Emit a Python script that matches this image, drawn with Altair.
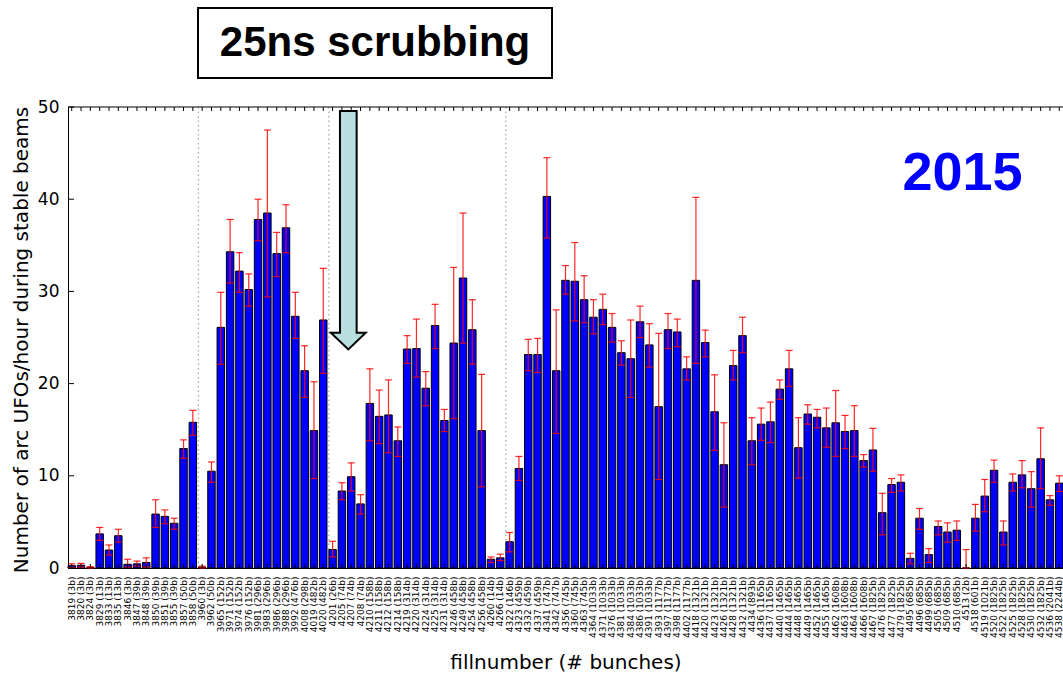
import altair as alt
import pandas as pd

# ---------------- data ----------------
fills = [3819, 3820, 3824, 3829, 3833, 3835, 3846, 3847, 3848, 3850, 3851, 3855, 3857, 3858,
         3960, 3962, 3965, 3971, 3974, 3976, 3981, 3983, 3986, 3988, 3992, 4008, 4019, 4020,
         4201, 4205, 4207, 4208, 4210, 4211, 4212, 4214, 4219, 4220, 4224, 4225, 4231, 4246,
         4249, 4254, 4256, 4260, 4266,
         4322, 4323, 4332, 4337, 4341, 4342, 4356, 4360, 4363, 4364, 4371, 4376, 4381, 4384,
         4386, 4391, 4393, 4397, 4398, 4402, 4418, 4420, 4423, 4426, 4428, 4432, 4434, 4436,
         4437, 4440, 4444, 4448, 4449, 4452, 4455, 4462, 4463, 4464, 4466, 4467, 4476, 4477,
         4479, 4495, 4496, 4499, 4505, 4509, 4510, 4513, 4518, 4519, 4520, 4522, 4525, 4528,
         4530, 4532, 4536, 4538]

bunches = [3, 3, 3, 13, 13, 13, 3, 39, 39, 39, 39, 39, 50, 50,
           3, 50, 152, 152, 152, 152, 296, 296, 296, 296, 476, 298, 482, 482,
           26, 74, 74, 74, 158, 158, 158, 158, 314, 314, 314, 314, 314, 458, 458, 458, 458, 14, 14,
           146, 459, 459, 459, 747, 747, 745, 745, 745, 1033, 1033, 1033, 1033, 1033, 1033, 1033,
           1177, 1177, 1177, 1177, 1321, 1321, 1321, 1321, 1321, 1321, 893, 1165, 1165,
           1465, 1465, 1465, 1465, 1465, 1465, 1608, 1608, 1608, 1608, 1825, 1825, 1825, 1825,
           685, 685, 685, 685, 685, 685, 2, 601, 1021, 1825, 1825, 1825, 1825, 1825, 1825, 2041, 2244]

ufo_rate = [0.25, 0.3, 0.05, 3.7, 1.95, 3.5, 0.4, 0.45, 0.6, 5.85, 5.6, 4.85, 12.95, 15.8,
            0.1, 10.5, 26.1, 34.3, 32.2, 30.2, 37.8, 38.5, 34.1, 36.9, 27.3, 21.4, 14.9, 26.9,
            2.0, 8.35, 9.9, 6.95, 17.85, 16.45, 16.6, 13.8, 23.75, 23.8, 19.5, 26.3, 16.0, 24.4,
            31.45, 25.85, 14.9, 0.95, 1.1,
            2.85, 10.8, 23.15, 23.15, 40.3, 21.4, 31.2, 31.1, 29.1, 27.2, 28.05, 26.1, 23.35, 22.7,
            26.7, 24.2, 17.5, 25.85, 25.6, 21.6, 31.2, 24.45, 16.95, 11.2, 21.95, 25.2, 13.8, 15.6,
            15.85, 19.4, 21.6, 13.05, 16.7, 16.35, 15.2, 15.75, 14.8, 14.9, 11.65, 12.8, 6.0, 9.05,
            9.3, 1.05, 5.4, 1.45, 4.5, 3.9, 4.1, 0.0, 5.4, 7.8, 10.6, 3.9, 9.3, 10.1,
            8.6, 11.85, 7.4, 9.2]

err_low = [0.05, 0.1, 0.0, 3.0, 1.4, 2.8, 0.1, 0.2, 0.1, 4.4, 4.8, 4.2, 11.9, 14.4,
           0.0, 9.3, 22.1, 30.9, 29.9, 28.4, 35.5, 29.4, 31.6, 34.2, 24.9, 18.5, 9.7, 21.1,
           1.2, 7.4, 8.35, 5.85, 13.8, 13.5, 12.5, 12.1, 22.2, 20.7, 17.6, 23.8, 14.8, 16.2,
           24.4, 22.1, 8.8, 0.6, 0.8,
           1.75, 9.5, 21.4, 21.2, 35.8, 14.6, 29.7, 26.8, 26.6, 25.4, 26.4, 24.5, 22.0, 18.5,
           25.0, 21.8, 9.6, 23.8, 24.0, 20.4, 22.2, 22.9, 12.75, 6.6, 20.4, 23.35, 11.2, 13.85,
           13.6, 18.3, 19.7, 9.75, 15.6, 15.2, 13.1, 12.1, 12.95, 12.1, 10.95, 10.5, 3.6, 8.2,
           8.35, 0.45, 4.2, 0.6, 3.6, 2.8, 3.0, 0.0, 4.0, 6.1, 9.3, 2.5, 8.35, 8.7,
           6.6, 8.6, 6.8, 8.3]

err_high = [0.45, 0.5, 0.15, 4.4, 2.5, 4.2, 0.95, 0.75, 1.1, 7.4, 6.3, 5.4, 13.9, 17.1,
            0.2, 11.5, 29.9, 37.8, 34.2, 31.9, 40.0, 47.5, 36.4, 39.4, 29.9, 24.1, 20.2, 32.5,
            2.9, 9.25, 11.4, 7.95, 21.6, 19.3, 20.4, 15.3, 25.2, 27.0, 21.3, 28.6, 17.2, 32.6,
            38.5, 29.1, 21.0, 1.2, 1.5,
            3.85, 12.1, 24.8, 24.9, 44.5, 28.0, 32.8, 35.3, 31.7, 29.1, 29.7, 27.6, 24.65, 26.9,
            28.4, 26.5, 25.45, 27.6, 27.0, 22.9, 40.2, 25.8, 20.95, 15.75, 23.6, 27.2, 16.3, 17.35,
            18.0, 20.4, 23.6, 16.3, 17.7, 17.2, 17.35, 19.25, 16.55, 17.6, 12.3, 15.15, 8.1, 9.7,
            10.1, 1.6, 6.45, 2.1, 5.1, 4.9, 5.1, 2.0, 6.9, 9.6, 11.7, 5.1, 10.2, 11.65,
            10.45, 15.2, 7.85, 10.0]

separator_fills = [3960, 4201, 4322]   # first fill after each dotted separator
y_ticks = [0, 10, 20, 30, 40, 50]

# ---------------- tables ----------------
labels = [f"{f} ({b}b)" for f, b in zip(fills, bunches)]
df = pd.DataFrame({"label": labels, "rate": ufo_rate, "lo": err_low, "hi": err_high})
sep_df = pd.DataFrame({"label": [l for f, l in zip(fills, labels) if f in separator_fills]})
ytick_df = pd.DataFrame({"v": y_ticks})
one = pd.DataFrame({"a": [0]})

W, H = 995, 461
FONT = "DejaVu Sans"
ARROW = "M -0.07 -1 L 0.07 -1 L 0.07 0.86 L 0.146 0.86 L 0 1 L -0.146 0.86 L -0.07 0.86 Z"

xscale = alt.Scale(domain=labels, paddingInner=0.2, paddingOuter=0)
yscale = alt.Scale(domain=[0, 50], nice=False)

xaxis = alt.Axis(title="fillnumber (# bunches)", labelAngle=270, labelFontSize=9, labelFont=FONT,
                 labelColor="black", labelPadding=8, labelOverlap=False, labelLimit=300,
                 ticks=False, tickSize=0, domainColor="black", domainWidth=1,
                 titleFont=FONT, titleFontSize=20, titleFontWeight="normal", titleColor="black",
                 titleX=W / 2, titleY=94, titleBaseline="middle", titleAlign="center")
yaxis = alt.Axis(title="Number of arc UFOs/hour during stable beams", values=y_ticks,
                 labelFontSize=17, labelFont=FONT, labelColor="black", labelPadding=9,
                 ticks=False, tickSize=0, grid=False, domainColor="black", domainWidth=1,
                 titleFont=FONT, titleFontSize=20, titleFontWeight="normal", titleColor="black",
                 titleX=-47, titleY=H / 2 + 2, titleAngle=270, titleBaseline="middle", titleAlign="center")

X = alt.X("label:N", scale=xscale, sort=None)

separators = alt.Chart(sep_df).mark_rule(color="#a8a8a8", strokeDash=[1.5, 3], strokeWidth=1.3).encode(
    x=alt.X("label:N", scale=xscale, sort=None, bandPosition=0),
    y=alt.value(0), y2=alt.value(H))

bars = alt.Chart(df).mark_bar(color="#0000ff", stroke="black", strokeWidth=1).encode(
    x=alt.X("label:N", scale=xscale, sort=None, axis=xaxis),
    y=alt.Y("rate:Q", scale=yscale, axis=yaxis))

err = alt.Chart(df).mark_rule(color="#ff0000", strokeWidth=1.2, opacity=0.85).encode(
    x=X, y=alt.Y("lo:Q", scale=yscale), y2="hi:Q")
cap_lo = alt.Chart(df).mark_tick(color="#ff0000", thickness=1.2, size=7, opacity=0.85).encode(
    x=X, y=alt.Y("lo:Q", scale=yscale))
cap_hi = alt.Chart(df).mark_tick(color="#ff0000", thickness=1.2, size=7, opacity=0.85).encode(
    x=X, y=alt.Y("hi:Q", scale=yscale))

bottom_ticks = alt.Chart(df).mark_rule(color="black", strokeWidth=1).encode(
    x=X, y=alt.value(H), y2=alt.value(H - 4))
top_ticks = alt.Chart(df).mark_rule(color="black", strokeWidth=1).encode(
    x=X, y=alt.value(0), y2=alt.value(4))
left_ticks = alt.Chart(ytick_df).mark_rule(color="black", strokeWidth=1).encode(
    y=alt.Y("v:Q", scale=yscale), x=alt.value(0), x2=alt.value(6))
top_frame = alt.Chart(one).mark_rule(color="black", strokeWidth=1).encode(
    x=alt.value(0), x2=alt.value(W), y=alt.value(0))

arrow = alt.Chart(one).mark_point(shape=ARROW, size=238.3 ** 2, filled=True, fill="#b8dfe0",
                                  stroke="black", strokeWidth=2, opacity=1).encode(
    x=alt.value(280.3), y=alt.value(123.2))

box = alt.Chart(one).mark_rect(fill="white", stroke="black", strokeWidth=2).encode(
    x=alt.value(130), x2=alt.value(484), y=alt.value(-99), y2=alt.value(-29))
box_text = alt.Chart(one).mark_text(text="25ns scrubbing", font="Liberation Sans", fontWeight="bold",
                                    fontSize=42, color="black", align="center",
                                    baseline="alphabetic").encode(
    x=alt.value(307), y=alt.value(-51))
year = alt.Chart(one).mark_text(text="2015", font="Liberation Sans", fontWeight="bold",
                                fontSize=54, color="#0000ff", align="center",
                                baseline="alphabetic").encode(
    x=alt.value(894.5), y=alt.value(83))

chart = alt.layer(separators, bars, err, cap_lo, cap_hi, bottom_ticks, top_ticks, left_ticks,
                  top_frame, arrow, box, box_text, year).properties(
    width=W, height=H,
    autosize=alt.AutoSizeParams(type="none"),
    padding={"left": 68, "top": 107, "right": 0, "bottom": 105},
    background="white",
).configure_view(stroke=None)

chart.save("out.html", embed_options={"renderer": "svg", "actions": False})
